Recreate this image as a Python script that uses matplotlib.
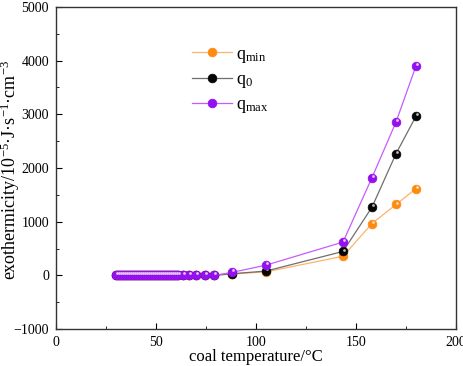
import matplotlib
matplotlib.use("Agg")
import matplotlib.pyplot as plt
import matplotlib.transforms as mtransforms
import numpy as np

plt.rcParams['font.family'] = ['Liberation Serif', 'DejaVu Serif']
plt.rcParams['mathtext.fontset'] = 'custom'
plt.rcParams['mathtext.rm'] = 'Liberation Serif'
plt.rcParams['mathtext.it'] = 'Liberation Serif'

temps = [30, 31, 32, 33, 34, 35, 36, 37, 38, 39, 40, 41, 42, 43, 44, 45, 46, 47, 48, 49,
         50, 51, 52, 53, 54, 55, 56, 57, 58, 59, 60, 61, 63.5, 66.5, 70, 74.5, 79, 88,
         105, 143.5, 158, 170, 180]
n_low = 37
q_min = [0] * n_low + [25, 65, 355, 965, 1320, 1615]
q_0 = [0] * n_low + [30, 80, 445, 1270, 2265, 2965]
q_max = [0] * n_low + [55, 190, 620, 1820, 2855, 3900]

fig = plt.figure(figsize=(4.64, 3.66), dpi=100)
ax = fig.add_axes([0.1207, 0.101, 0.862, 0.880])

series = [
    (q_min, '#ff8a12', '#fcb36b', '#ffd9b0', r'q$_{\mathrm{min}}$'),
    (q_0, '#050505', '#6e6e6e', '#bbbbbb', r'q$_{0}$'),
    (q_max, '#9410ee', '#c65cff', '#e6c6ff', r'q$_{\mathrm{max}}$'),
]
hl = mtransforms.ScaledTranslation(0.6 / 72, 1.4 / 72, fig.dpi_scale_trans)
for vals, mc, lc, hc, lab in series:
    ax.plot(temps, vals, '-', color=lc, lw=0.9, label=lab,
            marker='o', markersize=6.3, markerfacecolor=mc,
            markeredgecolor=mc, markeredgewidth=0.5)
    ax.plot(temps, vals, linestyle='none', marker='o', markersize=2.0,
            markerfacecolor=hc, markeredgewidth=0, transform=ax.transData + hl)

ax.set_xlim(0, 200)
ax.set_ylim(-1000, 5000)
ax.set_xticks([0, 50, 100, 150, 200])
ax.set_xticks([25, 75, 125, 175], minor=True)
ax.set_yticks(range(-1000, 5001, 1000))
ax.set_yticks(range(-500, 5000, 1000), minor=True)
ax.tick_params(direction='in', which='both', labelsize=10, top=False, right=False)
ax.tick_params(which='major', length=4, pad=5)
ax.tick_params(which='minor', length=2.5)
for s in ax.spines.values():
    s.set_linewidth(1.0)
    s.set_color('#333333')

ax.set_xlabel('coal temperature/°C', fontsize=12, labelpad=0)
ax.set_ylabel('exothermicity/10$^{-5}$·J·s$^{-1}$·cm$^{-3}$', fontsize=13)
ax.yaxis.set_label_coords(-0.085, 0.494)

ax.legend(loc='upper left', bbox_to_anchor=(0.3, 0.93), frameon=False, fontsize=13,
          handlelength=2.2, labelspacing=0.35, handletextpad=0.2)

fig.savefig('out.png', dpi=100)
